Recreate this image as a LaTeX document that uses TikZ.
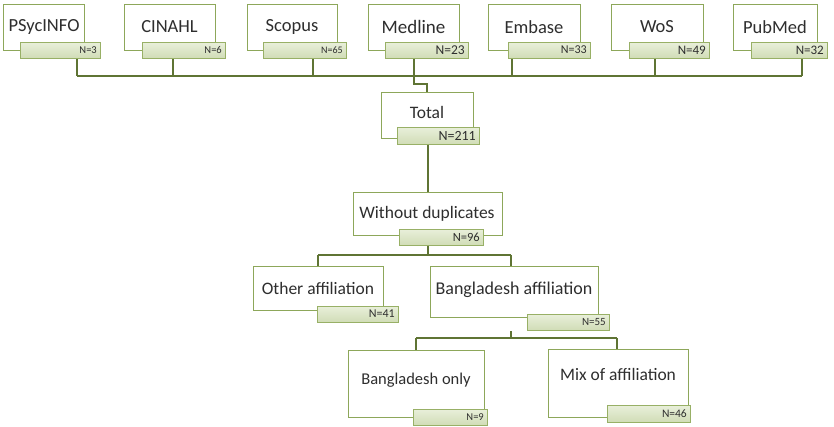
\documentclass[tikz,border=0pt]{standalone}
\usepackage{fontspec}
\setmainfont{Carlito}
\usetikzlibrary{shadows}
\definecolor{boxline}{HTML}{8DA75A}
\definecolor{tabline}{HTML}{98B066}
\definecolor{tabtop}{HTML}{E8EFD9}
\definecolor{tabbot}{HTML}{D0DCB6}
\definecolor{connline}{HTML}{5F7434}
\definecolor{txt}{HTML}{2E2E2E}
\tikzset{
  mainbox/.style={draw=boxline, line width=1.2pt, fill=white, inner sep=0pt, anchor=north west,
    general shadow={fill=black!22, shadow xshift=0.8pt, shadow yshift=-0.8pt}},
  tabbox/.style={draw=tabline, line width=1pt, top color=tabtop, bottom color=tabbot, inner sep=0pt, anchor=north west,
    general shadow={fill=black!18, shadow xshift=0.6pt, shadow yshift=-0.6pt}},
  lbl/.style={text=txt, inner sep=0pt},
  nlbl/.style={text=txt, inner sep=0pt, anchor=east},
  conn/.style={draw=connline, line width=1.5pt}
}
\newcommand{\fs}[1]{\fontsize{#1}{#1}\selectfont}
\begin{document}
\begin{tikzpicture}[x=1pt,y=-1pt]
\useasboundingbox (0,0) rectangle (834,427);

% ---------- top database boxes ----------
% PSycINFO
\node[mainbox, minimum width=81pt, minimum height=46pt] (m1) at (3,4) {};
\node[tabbox, minimum width=80pt, minimum height=16pt] (t1) at (20,42) {};
\node[lbl] (l1) at (44,27) {\fs{18.5}PSycINFO};
\node[nlbl] (n1) at (97,50) {\fs{10.5}N=3};
% CINAHL
\node[mainbox, minimum width=91pt, minimum height=46pt] (m2) at (124,4) {};
\node[tabbox, minimum width=83pt, minimum height=16pt] (t2) at (142,42) {};
\node[lbl] (l2) at (169.5,27) {\fs{18.5}CINAHL};
\node[nlbl] (n2) at (222,50) {\fs{10.5}N=6};
% Scopus
\node[mainbox, minimum width=90pt, minimum height=46pt] (m3) at (247,4) {};
\node[tabbox, minimum width=83pt, minimum height=16pt] (t3) at (263,42) {};
\node[lbl] (l3) at (292,27) {\fs{18.5}Scopus};
\node[nlbl] (n3) at (343,50) {\fs{10}N=65};
% Medline
\node[mainbox, minimum width=91pt, minimum height=46pt] (m4) at (368,4) {};
\node[tabbox, minimum width=83pt, minimum height=16pt] (t4) at (385,42) {};
\node[lbl] (l4) at (413.5,27) {\fs{19}Medline};
\node[nlbl] (n4) at (465,50) {\fs{13.5}N=23};
% Embase
\node[mainbox, minimum width=92pt, minimum height=46pt] (m5) at (488,4) {};
\node[tabbox, minimum width=82pt, minimum height=16pt] (t5) at (508,42) {};
\node[lbl] (l5) at (534,27) {\fs{18.5}Embase};
\node[nlbl] (n5) at (587,50) {\fs{12}N=33};
% WoS
\node[mainbox, minimum width=92pt, minimum height=46pt] (m6) at (611,4) {};
\node[tabbox, minimum width=80pt, minimum height=16pt] (t6) at (629,42) {};
\node[lbl] (l6) at (657,27) {\fs{18.5}WoS};
\node[nlbl] (n6) at (706,50) {\fs{13}N=49};
% PubMed
\node[mainbox, minimum width=84pt, minimum height=46pt] (m7) at (733,4) {};
\node[tabbox, minimum width=76pt, minimum height=16pt] (t7) at (751,42) {};
\node[lbl] (l7) at (775,27) {\fs{18.5}PubMed};
\node[nlbl] (n7) at (824,50) {\fs{13}N=32};

% ---------- bus ----------
\coordinate (b1) at (77,76);
\coordinate (b2) at (173,76);
\coordinate (b3) at (313,76);
\coordinate (b4) at (414,76);
\coordinate (b5) at (512,76);
\coordinate (b6) at (655,76);
\coordinate (b7) at (802,76);
\coordinate (k1) at (414,84);
\coordinate (k2) at (427,84);

% ---------- Total ----------
\node[mainbox, minimum width=92pt, minimum height=46pt] (mT) at (381,92) {};
\node[tabbox, minimum width=82pt, minimum height=17pt] (tT) at (397,127) {};
\node[lbl] (lT) at (427,112) {\fs{17.5}Total};
\node[nlbl] (nT) at (476,136) {\fs{14}N=211};

% ---------- Without duplicates ----------
\node[mainbox, minimum width=149pt, minimum height=43pt] (mW) at (353,192) {};
\node[tabbox, minimum width=84pt, minimum height=16pt] (tW) at (399,229) {};
\node[lbl] (lW) at (427,214) {\fs{17.5}Without duplicates};
\node[nlbl] (nW) at (480,237) {\fs{12.5}N=96};

% ---------- Other affiliation ----------
\node[mainbox, minimum width=130pt, minimum height=44pt] (mO) at (253,266) {};
\node[tabbox, minimum width=81pt, minimum height=16pt] (tO) at (317,306) {};
\node[lbl] (lO) at (318,288) {\fs{17.5}Other affiliation};
\node[nlbl] (nO) at (395,314) {\fs{12}N=41};

% ---------- Bangladesh affiliation ----------
\node[mainbox, minimum width=168pt, minimum height=51pt] (mB) at (430,266) {};
\node[tabbox, minimum width=82pt, minimum height=16pt] (tB) at (527,314) {};
\node[lbl] (lB) at (514,290) {\fs{18}Bangladesh affiliation};
\node[nlbl] (nB) at (606,322) {\fs{11}N=55};

% ---------- Bangladesh only ----------
\node[mainbox, minimum width=136pt, minimum height=67pt] (mBo) at (348,350) {};
\node[tabbox, minimum width=74pt, minimum height=16pt] (tBo) at (413,409) {};
\node[lbl] (lBo) at (416,380) {\fs{16.5}Bangladesh only};
\node[nlbl] (nBo) at (484,417) {\fs{10.5}N=9};

% ---------- Mix of affiliation ----------
\node[mainbox, minimum width=140pt, minimum height=68pt] (mM) at (548,349) {};
\node[tabbox, minimum width=83pt, minimum height=17pt] (tM) at (607,405) {};
\node[lbl] (lM) at (618,374) {\fs{17.5}Mix of affiliation};
\node[nlbl] (nM) at (687,413.5) {\fs{11.5}N=46};

% ---------- connectors ----------
\draw[conn] (b1) -- (b7);
\draw[conn] (t1.south -| b1) -- (b1);
\draw[conn] (t2.south -| b2) -- (b2);
\draw[conn] (t3.south -| b3) -- (b3);
\draw[conn] (t4.south -| b4) -- (b4);
\draw[conn] (t5.south -| b5) -- (b5);
\draw[conn] (t6.south -| b6) -- (b6);
\draw[conn] (t7.south -| b7) -- (b7);
\draw[conn] (b4) -- (k1) -- (k2) -- (mT.north -| k2);

\coordinate (cT) at (428,144);
\draw[conn] (tT.south -| cT) -- (mW.north -| cT);

\coordinate (h1) at (428,255);
\coordinate (h1l) at (318,255);
\coordinate (h1r) at (511,255);
\draw[conn] (tW.south -| h1) -- (h1);
\draw[conn] (h1l) -- (h1r);
\draw[conn] (h1l) -- (mO.north -| h1l);
\draw[conn] (h1r) -- (mB.north -| h1r);

\coordinate (h2) at (511,338);
\coordinate (h2l) at (416,338);
\coordinate (h2r) at (617,338);
\draw[conn] (tB.south -| h2) -- (h2);
\draw[conn] (h2l) -- (h2r);
\draw[conn] (h2l) -- (mBo.north -| h2l);
\draw[conn] (h2r) -- (mM.north -| h2r);
\end{tikzpicture}
\end{document}
